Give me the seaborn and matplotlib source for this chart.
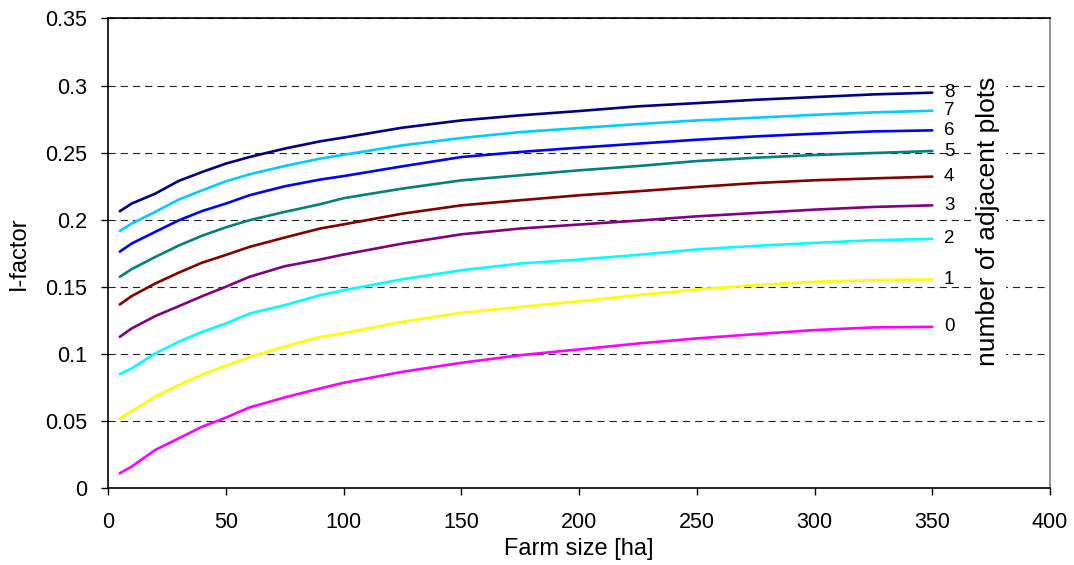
import numpy as np
import pandas as pd
import matplotlib
matplotlib.use("Agg")
import matplotlib.pyplot as plt
import seaborn as sns
from matplotlib.ticker import FuncFormatter

# ── Datos ────────────────────────────────────────────────────
farm_size = [5, 10, 20, 30, 40, 50, 60, 75, 90, 100,
             125, 150, 175, 200, 225, 250, 275, 300, 325, 350]

i_plots_0 = [0.0110, 0.0159, 0.0283, 0.0370, 0.0457, 0.0524, 0.0600, 0.0675, 0.0742, 0.0784,
             0.0866, 0.0933, 0.0990, 0.1033, 0.1077, 0.1115, 0.1147, 0.1177, 0.1197, 0.1201]
i_plots_1 = [0.0516, 0.0573, 0.0680, 0.0767, 0.0846, 0.0911, 0.0975, 0.1055, 0.1125, 0.1155,
             0.1239, 0.1306, 0.1350, 0.1392, 0.1438, 0.1480, 0.1512, 0.1537, 0.1549, 0.1556]
i_plots_2 = [0.0849, 0.0891, 0.1003, 0.1090, 0.1164, 0.1226, 0.1300, 0.1363, 0.1437, 0.1474,
             0.1556, 0.1623, 0.1673, 0.1703, 0.1738, 0.1778, 0.1805, 0.1827, 0.1847, 0.1857]
i_plots_3 = [0.1127, 0.1189, 0.1281, 0.1355, 0.1430, 0.1500, 0.1574, 0.1653, 0.1703, 0.1740,
             0.1822, 0.1891, 0.1934, 0.1964, 0.1993, 0.2025, 0.2050, 0.2075, 0.2095, 0.2107]
i_plots_4 = [0.1368, 0.1430, 0.1524, 0.1605, 0.1680, 0.1737, 0.1797, 0.1867, 0.1934, 0.1965,
             0.2045, 0.2107, 0.2145, 0.2182, 0.2212, 0.2244, 0.2273, 0.2294, 0.2308, 0.2321]
i_plots_5 = [0.1574, 0.1631, 0.1722, 0.1807, 0.1881, 0.1943, 0.1996, 0.2058, 0.2115, 0.2160,
             0.2232, 0.2293, 0.2331, 0.2368, 0.2400, 0.2437, 0.2462, 0.2482, 0.2497, 0.2512]
i_plots_6 = [0.1762, 0.1822, 0.1909, 0.1995, 0.2065, 0.2120, 0.2182, 0.2249, 0.2299, 0.2325,
             0.2398, 0.2467, 0.2505, 0.2537, 0.2567, 0.2596, 0.2621, 0.2641, 0.2658, 0.2666]
i_plots_7 = [0.1916, 0.1971, 0.2058, 0.2150, 0.2219, 0.2286, 0.2338, 0.2400, 0.2455, 0.2484,
             0.2554, 0.2609, 0.2653, 0.2683, 0.2713, 0.2740, 0.2760, 0.2782, 0.2800, 0.2812]
i_plots_8 = [0.2063, 0.2120, 0.2194, 0.2289, 0.2356, 0.2418, 0.2467, 0.2530, 0.2584, 0.2612,
             0.2686, 0.2740, 0.2778, 0.2810, 0.2845, 0.2869, 0.2894, 0.2914, 0.2934, 0.2947]

series = [i_plots_0, i_plots_1, i_plots_2, i_plots_3, i_plots_4,
          i_plots_5, i_plots_6, i_plots_7, i_plots_8]
series_labels = ["0", "1", "2", "3", "4", "5", "6", "7", "8"]
colores = ["#FF00FF", "#FFFF00", "#00FFFF", "#800080", "#800000",
           "#008080", "#0000FF", "#00CCFF", "#000080"]

x_ticks = [0, 50, 100, 150, 200, 250, 300, 350, 400]
y_ticks = [0, 0.05, 0.1, 0.15, 0.2, 0.25, 0.3, 0.35]

# ── Tabla larga para seaborn ─────────────────────────────────
df = pd.concat(
    [pd.DataFrame({"farm": farm_size, "ifac": s, "plots": lab})
     for s, lab in zip(series, series_labels)],
    ignore_index=True,
)

sns.set_theme(style="white")
plt.rcParams["font.family"] = ["Liberation Sans", "DejaVu Sans"]
plt.rcParams["text.color"] = "black"
plt.rcParams["axes.labelcolor"] = "black"

fig = plt.figure(figsize=(10.74, 5.65), dpi=100)
ax = fig.add_axes([0.1006, 0.1363, 0.8771, 0.8310])

sns.lineplot(data=df, x="farm", y="ifac", hue="plots",
             palette=dict(zip(series_labels, colores)),
             linewidth=1.9, legend=False, ax=ax, zorder=3)

# ── Etiquetas al final de cada curva ─────────────────────────
for s, lab in zip(series, series_labels):
    ax.text(farm_size[-1] + 5, s[-1], lab, fontsize=13.5,
            ha="left", va="center", color="black", zorder=4)

ax.text(373.7, 0.1988, "number of adjacent plots", rotation=90,
        fontsize=19, ha="center", va="center", color="black", zorder=4,
        bbox=dict(facecolor="white", edgecolor="none", pad=4))

# ── Ejes ─────────────────────────────────────────────────────
ax.set_xlim(0, 400)
ax.set_ylim(0, 0.35)
ax.set_xticks(x_ticks)
ax.set_yticks(y_ticks)
ax.yaxis.set_major_formatter(FuncFormatter(lambda v, p: f"{v:g}"))
ax.tick_params(axis="both", direction="out", length=5, width=1,
               color="black", labelsize=15.5, labelcolor="black",
               bottom=True, left=True)
ax.tick_params(axis="y", pad=10)
ax.tick_params(axis="x", pad=12)

ax.yaxis.grid(True, linestyle=(0, (6.5, 4.5)), color="#222222", linewidth=0.8)
ax.xaxis.grid(False)
ax.set_axisbelow(True)

for side in ["left", "bottom", "top"]:
    ax.spines[side].set_color("black")
    ax.spines[side].set_linewidth(1.2)
ax.spines["right"].set_color("#808080")
ax.spines["right"].set_linewidth(1.2)

ax.set_xlabel("Farm size [ha]", fontsize=17, labelpad=4, color="black")
ax.set_ylabel("I-factor", fontsize=17, labelpad=11, color="black")

fig.savefig("out.png", dpi=100)
